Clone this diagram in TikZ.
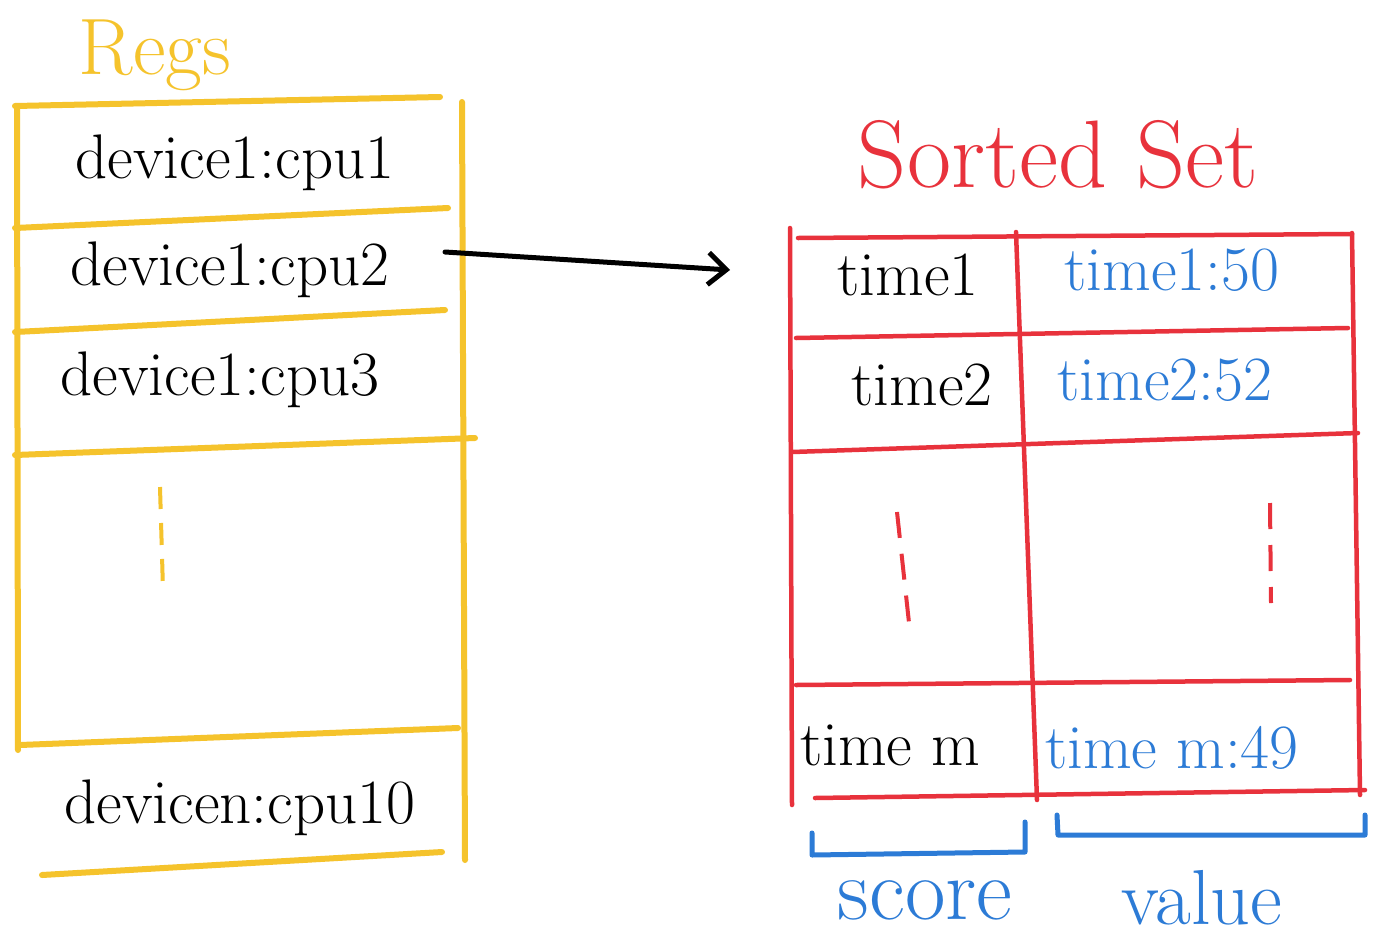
\documentclass[tikz,border=0pt]{standalone}
\usetikzlibrary{arrows.meta}
\definecolor{ylw}{HTML}{F5C32C}
\definecolor{rd}{HTML}{E8323C}
\definecolor{blu}{HTML}{2C7BD6}
\tikzset{
  yline/.style={ylw, line width=6pt, line cap=round},
  rline/.style={rd, line width=4.5pt, line cap=round},
  bline/.style={blu, line width=5pt, line cap=round, line join=round},
  ydots/.style={ylw, line width=4pt, dash pattern=on 22pt off 14pt},
  rdots/.style={rd, line width=4pt, dash pattern=on 26pt off 16pt},
  txt/.style={inner sep=0pt, font=\fontsize{63}{70}\selectfont},
  btxt/.style={txt, text=blu},
  title/.style={inner sep=0pt},
}
\begin{document}
\begin{tikzpicture}[x=1pt,y=-1pt]
\useasboundingbox[fill=white] (0,0) rectangle (1382,946);
% Regs table
\draw[yline] (15,106) -- (440,97);
\draw[yline] (17,106) -- (18,750);
\draw[yline] (462,102) -- (465,860);
\draw[yline] (15,228) -- (448,208);
\draw[yline] (15,332) -- (445,310);
\draw[yline] (15,455) -- (475,438);
\draw[yline] (20,745) -- (458,728);
\draw[yline] (42,875) -- (442,852);
\draw[ydots] (160,487) -- (163,590);
% title and entries
\node[title, text=ylw, font=\fontsize{80}{88}\selectfont] (regs) at (155,55) {Regs};
\node[txt] (d1) at (235,163) {device1:cpu1};
\node[txt] (d2) at (230,270) {device1:cpu2};
\node[txt] (d3) at (220,380) {device1:cpu3};
\node[txt] (dn) at (240,808) {devicen:cpu10};
% Sorted set table
\draw[rline] (790,228) -- (792,805);
\draw[rline] (1352,233) -- (1360,795);
\draw[rline] (798,238) -- (1352,234);
\draw[rline] (796,338) -- (1348,328);
\draw[rline] (792,452) -- (1358,433);
\draw[rline] (796,685) -- (1350,680);
\draw[rline] (815,798) -- (1365,790);
\draw[rline] (1016,232) -- (1037,800);
\draw[rdots] (897,512) -- (910,632);
\draw[rdots] (1270,503) -- (1271,603);
\node[title, text=rd, font=\fontsize{96}{104}\selectfont] (zs) at (1058,155) {Sorted Set};
\node[txt] (t1) at (908,275) {time1};
\node[btxt] (v1) at (1172,270) {time1:50};
\node[txt] (t2) at (922,385) {time2};
\node[btxt] (v2) at (1165,380) {time2:52};
\node[txt] (tm) at (890,745) {time m};
\node[btxt] (vm) at (1172,748) {time m:49};
% brackets
\draw[bline] (812,833) -- (812,855) -- (1025,852) -- (1025,822);
\draw[bline] (1057,815) -- (1058,835) -- (1365,835) -- (1365,815);
\node[title, text=blu, font=\fontsize{88}{96}\selectfont] (score) at (925,900) {score};
\node[title, text=blu, font=\fontsize{78}{86}\selectfont] (value) at (1202,898) {value};
% arrow
\coordinate (as) at (445,252);
\coordinate (ae) at (730,270);
\draw[line width=5pt, line cap=round, -{Straight Barb[length=18pt,width=32pt,line width=5pt]}] (as) -- (ae);
\end{tikzpicture}
\end{document}
